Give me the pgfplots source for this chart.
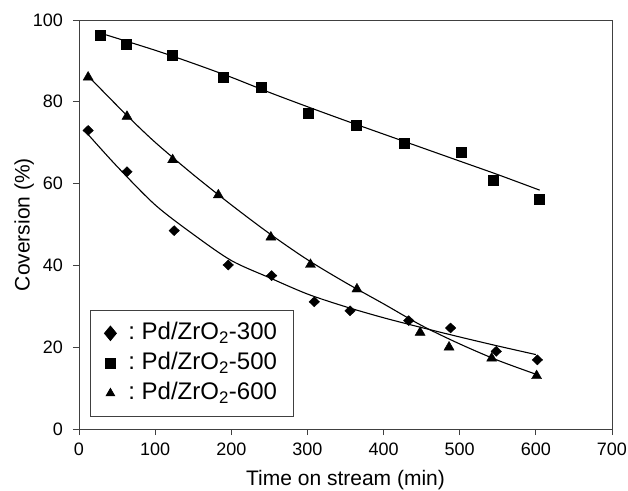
\documentclass[border=0pt]{standalone}
\usepackage{fontspec}
\setmainfont{Liberation Sans}
\usepackage{pgfplots}
\pgfplotsset{compat=1.18}

\begin{document}
\begin{tikzpicture}
\useasboundingbox (-79pt,-61pt) rectangle (549pt,429pt);
\begin{axis}[scale only axis, width=533pt, height=409pt,
  xmin=0, xmax=700, ymin=0, ymax=100,
  xtick={0,100,...,700}, ytick={0,20,...,100},
  tick pos=left, tick align=outside, major tick length=6pt,
  axis line style={black!75, line width=0.9pt},
  every tick/.style={black!75, line width=0.9pt},
  /pgf/number format/assume math mode=true,
  tick label style={font=\fontsize{18}{20}\selectfont},
  xticklabel style={anchor=center, yshift=-14pt},
  yticklabel style={anchor=east, inner sep=0pt, xshift=-10pt},
  xlabel={Time on stream (min)}, ylabel={Coversion (\%)},
  label style={font=\fontsize{21}{24}\selectfont},
  xlabel style={at={(axis description cs:0.5,-0.125)}, anchor=center},
  ylabel style={at={(axis description cs:-0.103,0.5)}, anchor=center, rotate=0},
  legend style={at={(axis cs:14.5,3)}, anchor=south west,
    draw=black!75, line width=0.8pt, font=\fontsize{24}{26}\selectfont,
    row sep=8pt, inner xsep=14pt, inner ysep=12pt,
    nodes={inner ysep=0pt, inner xsep=2pt, text height=17pt, text depth=5pt},
    /tikz/every odd column/.append style={column sep=10pt}},
  legend cell align=left,
  legend image code/.code={\draw plot coordinates {(0pt,0pt)};},
]
% fitted trend lines
\addplot[black, line width=1.1pt, smooth, forget plot] coordinates {
  (12,72.0) (50,64.2) (100,54.8) (150,47.6) (200,41.2) (250,37.0) (300,33.0)
  (350,29.9) (400,27.2) (450,24.8) (500,22.5) (550,20.3) (600,18.2)};
\addplot[black, line width=1.1pt, smooth, forget plot] coordinates {
  (28,96.8) (100,92.6) (150,89.4) (200,86.0) (250,82.3) (300,78.8) (350,75.4)
  (400,72.1) (450,68.8) (500,65.5) (550,62.2) (605,58.4)};
\addplot[black, line width=1.1pt, smooth, forget plot] coordinates {
  (12,86.3) (60,77.2) (100,70.1) (150,62.2) (200,54.8) (250,47.8) (300,41.4)
  (350,35.8) (400,30.6) (450,25.3) (500,20.8) (550,16.8) (600,13.4)};
% data
\addplot[only marks, mark=diamond*, mark size=5pt, mark options={xscale=1.4}, black,
  legend image post style={mark options={xscale=1.1, scale=1.45}}] coordinates {
  (12,73.0) (63,62.9) (125,48.5) (196,40.1) (253,37.5) (309,31.1) (356,28.9)
  (433,26.5) (488,24.7) (548,19.0) (602,16.9)};
\addlegendentry{:\ Pd/ZrO\textsubscript{2}-300}
\addplot[only marks, mark=square*, mark size=5pt, black] coordinates {
  (28,96.3) (62,94.2) (122,91.4) (189,86.1) (239,83.6) (301,77.3) (364,74.3)
  (427,69.9) (502,67.6) (544,60.9) (604,56.2)};
\addlegendentry{:\ Pd/ZrO\textsubscript{2}-500}
\addplot[only marks, mark=triangle*, mark size=5.8pt, black,
  legend image post style={mark options={scale=0.85}}] coordinates {
  (12,86.0) (63,76.4) (123,65.8) (183,57.2) (252,46.9) (304,40.2) (365,34.2)
  (448,23.6) (486,20.0) (542,17.3) (601,13.0)};
\addlegendentry{:\ Pd/ZrO\textsubscript{2}-600}
\end{axis}
\end{tikzpicture}
\end{document}
